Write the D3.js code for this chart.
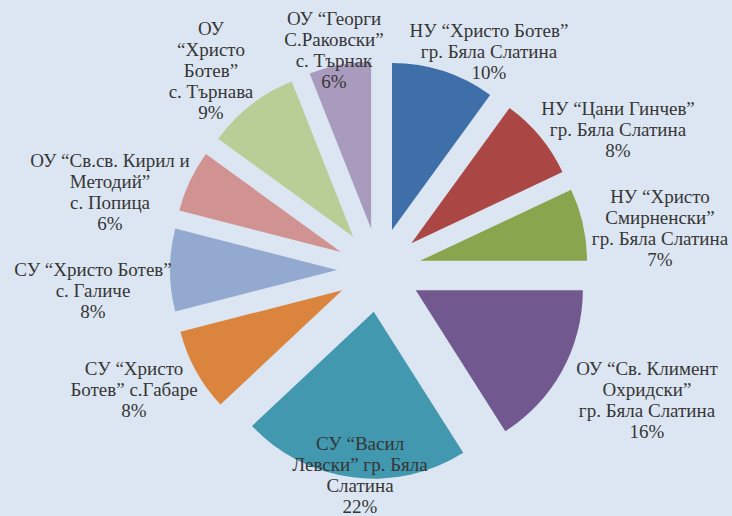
<!DOCTYPE html>
<html>
<head>
<meta charset="utf-8">
<script src="https://cdn.jsdelivr.net/npm/d3@7"></script>
<style>
  html, body { margin: 0; padding: 0; background: #dce6f2; }
  #chart { width: 732px; height: 516px; }
  .lbl { font-family: 'Liberation Serif', 'DejaVu Serif', 'Times New Roman', Times, serif; font-size: 19px; }
</style>
</head>
<body>
<div id="chart"></div>
<script>
// school names (one entry per wrapped line) and their shares, clockwise from 12 o'clock
const categories = [
    ['НУ “Христо Ботев”', 'гр. Бяла Слатина'],
    ['НУ “Цани Гинчев”', 'гр. Бяла Слатина'],
    ['НУ “Христо', 'Смирненски”', 'гр. Бяла Слатина'],
    ['ОУ “Св. Климент', 'Охридски”', 'гр. Бяла Слатина'],
    ['СУ “Васил', 'Левски” гр. Бяла', 'Слатина'],
    ['СУ “Христо', 'Ботев” с.Габаре'],
    ['СУ “Христо Ботев”', 'с. Галиче'],
    ['ОУ “Св.св. Кирил и', 'Методий”', 'с. Попица'],
    ['ОУ', '“Христо', 'Ботев”', 'с. Търнава'],
    ['ОУ “Георги', 'С.Раковски”', 'с. Търнак']
];
const values = [10, 8, 7, 16, 22, 8, 8, 6, 9, 6];

const colors = ['#3f6fa9', '#aa4643', '#89a54e', '#71588f', '#4198af',
                '#db843d', '#93a9cf', '#d19392', '#b9cd96', '#a99bbd'];

// label block placement: centre x and first baseline (placed by hand like in the original)
const labelPos = [
    [489, 37], [618, 115], [660, 203], [647, 375], [360, 450],
    [134, 375], [93, 276], [110, 167], [211, 35], [334, 25]
];

const width = 732, height = 516;
const cx = 379, cy = 270;
const radius = 167;
const explode = 42;
const lineH = 21;

const svg = d3.select('#chart')
    .append('svg')
    .attr('width', width)
    .attr('height', height);

svg.append('rect')
    .attr('width', width)
    .attr('height', height)
    .attr('fill', '#dce6f2');

const total = d3.sum(values);

const pie = d3.pie()
    .sort(null)
    .value(d => d)
    .startAngle(0)
    .endAngle(2 * Math.PI);

const arc = d3.arc()
    .innerRadius(0)
    .outerRadius(radius);

const arcs = pie(values);

const g = svg.append('g')
    .attr('transform', `translate(${cx}, ${cy})`);

g.selectAll('path')
    .data(arcs)
    .enter()
    .append('path')
    .attr('d', arc)
    .attr('fill', (d, i) => colors[i])
    .attr('transform', d => {
        const mid = (d.startAngle + d.endAngle) / 2;
        return `translate(${Math.sin(mid) * explode}, ${-Math.cos(mid) * explode})`;
    });

// Data labels
const labels = svg.selectAll('text.lbl')
    .data(arcs)
    .enter()
    .append('text')
    .attr('class', 'lbl')
    .attr('text-anchor', 'middle')
    .attr('fill', '#363636');

labels.each(function(d, i) {
    const lines = categories[i].concat([Math.round(d.value / total * 100) + '%']);
    const [x, y] = labelPos[i];
    d3.select(this).selectAll('tspan')
        .data(lines)
        .enter()
        .append('tspan')
        .attr('x', x)
        .attr('y', (l, j) => y + j * lineH)
        .text(l => l);
});
</script>
</body>
</html>
